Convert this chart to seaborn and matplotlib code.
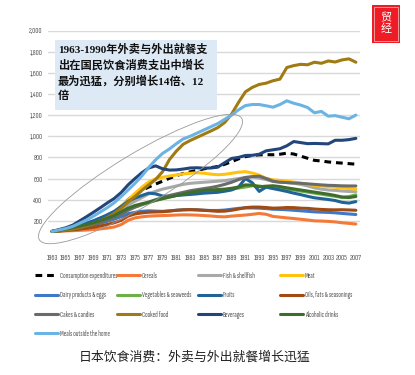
import matplotlib
matplotlib.use("Agg")
import matplotlib.pyplot as plt
import seaborn as sns
import pandas as pd
from matplotlib.lines import Line2D
from matplotlib.patches import Ellipse, Rectangle
from matplotlib.transforms import IdentityTransform

years = list(range(1963, 2008))

consumption = [100,112,124,138,155,175,198,225,252,283,335,400,450,488,520,548,575,603,628,648,663,678,692,703,714,735,760,786,808,818,824,826,825,830,840,832,812,792,772,766,757,751,746,741,736]
cereals = [100,102,105,107,110,113,118,124,132,142,165,205,228,238,245,248,250,252,255,257,256,254,250,246,240,238,245,250,255,262,270,262,242,235,228,222,215,208,200,198,195,190,182,176,170]
fish = [100,108,118,128,142,158,176,198,222,250,300,350,385,420,455,480,500,515,530,545,555,560,565,570,575,580,590,600,610,615,605,590,572,568,562,555,545,530,512,500,492,488,482,478,475]
meat = [100,110,120,132,148,168,192,218,248,288,340,400,460,518,568,598,612,624,634,644,650,655,650,642,636,640,650,660,665,652,632,602,588,582,576,566,556,546,536,530,524,518,511,505,500]
dairy = [100,106,114,124,136,148,162,178,196,216,240,268,280,290,295,292,290,295,300,305,306,304,300,298,298,302,310,318,322,322,320,316,310,308,305,300,295,290,285,282,280,276,270,265,260]
vegetables = [100,108,118,130,142,156,172,192,215,238,268,305,330,352,372,392,410,425,440,450,460,468,478,484,490,494,500,510,520,532,530,518,510,506,500,492,482,472,462,452,442,432,422,430,445]
fruits = [100,110,125,140,158,178,202,228,258,290,335,385,415,440,462,455,435,432,440,445,450,455,462,466,470,480,492,520,600,560,478,520,505,492,478,462,448,432,418,410,402,392,375,368,382]
oils = [100,104,109,115,122,130,140,152,166,182,205,245,265,275,282,284,286,292,300,304,306,304,300,295,290,292,300,312,325,330,330,326,320,322,326,325,320,318,312,308,305,304,305,303,300]
cakes = [100,106,114,124,136,150,166,185,208,232,262,300,330,355,378,400,420,440,455,470,485,495,505,515,528,545,565,590,610,618,622,600,575,565,562,558,555,550,545,540,536,534,531,530,530]
cooked = [100,105,113,123,138,156,178,203,232,270,320,378,430,488,540,592,665,780,860,925,960,990,1020,1050,1082,1130,1210,1320,1420,1462,1490,1502,1525,1540,1650,1668,1680,1676,1700,1690,1712,1702,1722,1732,1700]
beverages = [100,118,135,160,200,240,282,325,370,412,468,540,600,655,700,720,692,680,682,690,700,702,698,700,708,750,790,800,818,820,830,862,872,882,910,950,940,930,932,930,928,962,962,968,980]
alcoholic = [100,110,122,136,150,165,182,202,225,250,285,320,345,362,375,395,410,425,440,455,468,478,488,492,496,500,508,520,540,538,522,528,532,524,512,502,492,482,472,462,452,440,425,420,430]
meals = [100,114,128,148,178,208,245,285,325,372,430,492,555,625,705,778,838,880,930,975,1000,1030,1060,1090,1120,1160,1200,1250,1290,1300,1300,1288,1275,1300,1335,1312,1295,1272,1222,1235,1190,1195,1180,1165,1200]

series_names = ["Consumption expenditures", "Cereals", "Fish & shellfish", "Meat",
                "Dairy products & eggs", "Vegetables & seaweeds", "Fruits", "Oils, fats & seasonings",
                "Cakes & candies", "Cooked food", "Beverages", "Alcoholic drinks",
                "Meals outside the home"]
series_values = [consumption, cereals, fish, meat, dairy, vegetables, fruits, oils,
                 cakes, cooked, beverages, alcoholic, meals]
colors = ["#000000", "#F47A3A", "#A9A9A9", "#FFC20E",
          "#3F78C6", "#6DB04A", "#1F6399", "#A04A14",
          "#6B6B6B", "#A07A12", "#22457A", "#3E6E2C",
          "#6BB3E3"]

y_ticks = [200, 400, 600, 800, 1000, 1200, 1400, 1600, 1800, 2000]
x_ticks = list(range(1963, 2008, 2))

title_text = "日本饮食消费：外卖与外出就餐增长迅猛"
note_text = "1963-1990年外卖与外出就餐支\n出在国民饮食消费支出中增长\n最为迅猛，分别增长14倍、12\n倍"

sns.set_theme(style="white")
narrow = ["Sofia Sans Extra Condensed", "Roboto Condensed", "DejaVu Sans"]

fig = plt.figure(figsize=(4.15, 3.75), dpi=100)
fig.patch.set_facecolor("white")
ax = fig.add_axes([48/415, 1-242/375, 312/415, (242-30.5)/375])
ax.set_facecolor("white")

df = pd.DataFrame({"year": years})
for name, vals in zip(series_names, series_values):
    df[name] = vals

# gridlines
for yv in [0] + y_ticks:
    ax.axhline(yv, color="#D9D9D9", lw=1.0, zorder=0)

for i, (name, col) in enumerate(zip(series_names, colors)):
    if i == 0:
        sns.lineplot(data=df, x="year", y=name, ax=ax, color=col, lw=2.2,
                     linestyle=(0, (2.2, 1.6)), zorder=2)
    else:
        sns.lineplot(data=df, x="year", y=name, ax=ax, color=col, lw=2.2, zorder=3 + i)

ax.set_xlim(1962.4, 2007.6)
ax.set_ylim(0, 2000)
ax.set_xticks(x_ticks)
ax.set_xticklabels([str(t) for t in x_ticks], family=narrow, fontsize=6.2, color="#595959")
ax.set_yticks(y_ticks)
ax.set_yticklabels([f"{t:,}" for t in y_ticks], family=narrow, fontsize=6.0, color="#595959")
ax.tick_params(axis="x", length=0, pad=9)
ax.tick_params(axis="y", length=0, pad=4)
ax.set_xlabel("")
ax.set_ylabel("")
for s in ax.spines.values():
    s.set_visible(False)
ax.grid(False)

# annotation box
box = Rectangle((55/415, 1-110/375), (217-55)/415, (110-40)/375, transform=fig.transFigure,
                facecolor="#DDEAF6", edgecolor="none", zorder=20)
fig.add_artist(box)
fig.text(58/415, 1-44/375, note_text, ha="left", va="top", fontsize=8.1, fontweight="bold",
         family=["Liberation Serif", "Noto Sans CJK SC"], color="#111111", linespacing=1.45,
         zorder=21)

# ellipse (display pixel coords)
ell = Ellipse((140.5, 375-179), 236, 52, angle=31, transform=IdentityTransform(),
              fill=False, edgecolor="#9A9A9A", lw=0.6, zorder=25)
fig.add_artist(ell)

# legend: 4 columns placed manually, row-major order
col_x = [35, 117, 198, 280]
for c in range(4):
    handles, labels = [], []
    for r in range(4):
        idx = r * 4 + c
        if idx >= len(series_names):
            continue
        if idx == 0:
            h = Line2D([0], [0], color=colors[idx], lw=2.2, linestyle=(0, (2.2, 1.6)))
        else:
            h = Line2D([0], [0], color=colors[idx], lw=2.2)
        handles.append(h)
        labels.append(series_names[idx])
    leg = fig.legend(handles, labels, loc="upper left",
                     bbox_to_anchor=(col_x[c]/415, 1-272/375),
                     frameon=False, prop={"family": narrow, "size": 5.6},
                     labelcolor="#595959", handlelength=2.9, handletextpad=0.3,
                     labelspacing=1.45, borderaxespad=0, borderpad=0)

# logo
logo = Rectangle((372/415, 1-43/375), 28/415, 38/375, transform=fig.transFigure,
                 facecolor="#EE1C25", edgecolor="none", zorder=30)
fig.add_artist(logo)
inner = Rectangle((374/415, 1-41/375), 24/415, 34/375, transform=fig.transFigure,
                  facecolor="none", edgecolor="#F8C8C8", lw=0.5, zorder=31)
fig.add_artist(inner)
fig.text(386/415, 1-24/375, "贸\n经", ha="center", va="center", fontsize=8,
         family=["Noto Sans CJK SC"], color="white", linespacing=1.0, zorder=32)

# bottom title
fig.text(195/415, 1-357/375, title_text, ha="center", va="center", fontsize=9.3,
         family=["Noto Sans CJK SC", "DejaVu Sans"], color="#222222")

fig.savefig("out.png", dpi=100)
